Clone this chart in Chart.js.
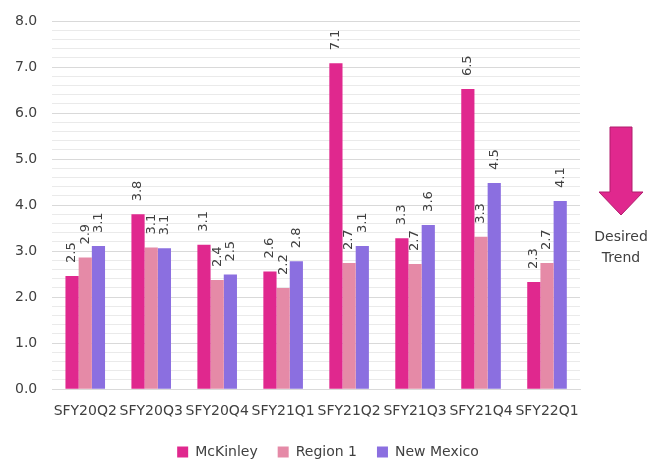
<!DOCTYPE html>
<html lang="en">
<head>
    <meta charset="UTF-8">
    <title>Desired Trend Chart</title>
    <script src="https://cdn.jsdelivr.net/npm/chart.js@4.4.1/dist/chart.umd.min.js"></script>
    <style>
        body {
    margin: 0;
    background-color: #ffffff;
}
#wrap {
    width: 667px;
    height: 460px;
}
    </style>
</head>
<body>
    <div id="wrap"><canvas id="trendChart"></canvas></div>

    <script>
        const quarters = ['SFY20Q2', 'SFY20Q3', 'SFY20Q4', 'SFY21Q1', 'SFY21Q2', 'SFY21Q3', 'SFY21Q4', 'SFY22Q1'];
const mckinley = [2.46, 3.8, 3.14, 2.56, 7.08, 3.28, 6.52, 2.33];
const region1 = [2.86, 3.08, 2.37, 2.2, 2.74, 2.72, 3.31, 2.74];
const newMexico = [3.11, 3.06, 2.49, 2.78, 3.11, 3.57, 4.48, 4.09];
const yTicks = [0, 1, 2, 3, 4, 5, 6, 7, 8];

const fontFamily = "'DejaVu Sans', sans-serif";

// rotated value labels above each bar
const barLabels = {
    id: 'barLabels',
    afterDatasetsDraw(chart) {
        const ctx = chart.ctx;
        ctx.save();
        ctx.fillStyle = '#404040';
        ctx.font = '13px ' + fontFamily;
        ctx.textAlign = 'left';
        ctx.textBaseline = 'middle';
        chart.data.datasets.forEach((ds, i) => {
            chart.getDatasetMeta(i).data.forEach((bar, j) => {
                ctx.save();
                ctx.translate(bar.x, bar.y - 13);
                ctx.rotate(-Math.PI / 2);
                ctx.fillText(ds.data[j].toFixed(1), 0, 0);
                ctx.restore();
            });
        });
        ctx.restore();
    }
};

// "Desired Trend" arrow on the right side
const trendArrow = {
    id: 'trendArrow',
    afterDraw(chart) {
        const ctx = chart.ctx;
        const cx = 621;
        ctx.save();
        ctx.beginPath();
        ctx.moveTo(cx - 11, 127);
        ctx.lineTo(cx + 11, 127);
        ctx.lineTo(cx + 11, 192);
        ctx.lineTo(cx + 22, 192);
        ctx.lineTo(cx, 215);
        ctx.lineTo(cx - 22, 192);
        ctx.lineTo(cx - 11, 192);
        ctx.closePath();
        ctx.fillStyle = '#e0288e';
        ctx.fill();
        ctx.strokeStyle = '#b01c6c';
        ctx.lineWidth = 1;
        ctx.stroke();

        ctx.fillStyle = '#404040';
        ctx.font = '14px ' + fontFamily;
        ctx.textAlign = 'center';
        ctx.textBaseline = 'middle';
        ctx.fillText('Desired', cx, 237);
        ctx.fillText('Trend', cx, 258);
        ctx.restore();
    }
};

// pull the legend closer to the bottom edge and centre it under the plot
const legendFit = {
    id: 'legendFit',
    beforeInit(chart) {
        const fit = chart.legend.fit;
        chart.legend.fit = function () {
            fit.bind(chart.legend)();
            this.height -= 18;
        };
    },
    afterLayout(chart) {
        const lg = chart.legend;
        lg.top -= 9;
        lg.bottom = chart.height;
        lg.height = lg.bottom - lg.top;
        lg.left += 38;
        lg.right += 38;
    }
};

const ctx = document.getElementById('trendChart').getContext('2d');
const chart = new Chart(ctx, {
    type: 'bar',
    data: {
        labels: quarters,
        datasets: [
            { label: 'McKinley', data: mckinley, backgroundColor: '#e0288e' },
            { label: 'Region 1', data: region1, backgroundColor: '#e58aa7' },
            { label: 'New Mexico', data: newMexico, backgroundColor: '#8b6fe0' }
        ]
    },
    options: {
        responsive: true,
        maintainAspectRatio: false,
        animation: false,
        layout: {
            padding: { top: 21, right: 87, left: 0, bottom: 0 }
        },
        datasets: {
            bar: { categoryPercentage: 0.6, barPercentage: 1.0 }
        },
        plugins: {
            tooltip: { enabled: false },
            legend: {
                position: 'bottom',
                labels: {
                    boxWidth: 11,
                    boxHeight: 11,
                    padding: 20,
                    color: '#404040',
                    font: { family: fontFamily, size: 14 }
                }
            }
        },
        scales: {
            x: {
                afterFit: s => { s.paddingLeft = 0; s.paddingRight = 0; },
                grid: { display: false, drawTicks: false },
                border: { color: '#d9d9d9' },
                ticks: {
                    color: '#404040',
                    padding: 14,
                    maxRotation: 0,
                    autoSkip: false,
                    font: { family: fontFamily, size: 14 }
                }
            },
            y: {
                min: yTicks[0],
                max: yTicks[yTicks.length - 1],
                afterFit: s => { s.paddingTop = 0; s.paddingBottom = 0; },
                border: { display: false },
                grid: {
                    drawTicks: false,
                    color: c => Number.isInteger(Math.round(c.tick.value * 1000) / 1000) ? '#d9d9d9' : '#eaeaea'
                },
                ticks: {
                    stepSize: 0.2,
                    autoSkip: false,
                    padding: 15,
                    color: '#404040',
                    font: { family: fontFamily, size: 14 },
                    callback: v => {
                        const r = Math.round(v);
                        return (Math.abs(v - r) < 1e-6 && yTicks.includes(r)) ? r.toFixed(1) : '';
                    }
                }
            }
        }
    },
    plugins: [barLabels, trendArrow, legendFit]
});
    </script>
</body>
</html>
